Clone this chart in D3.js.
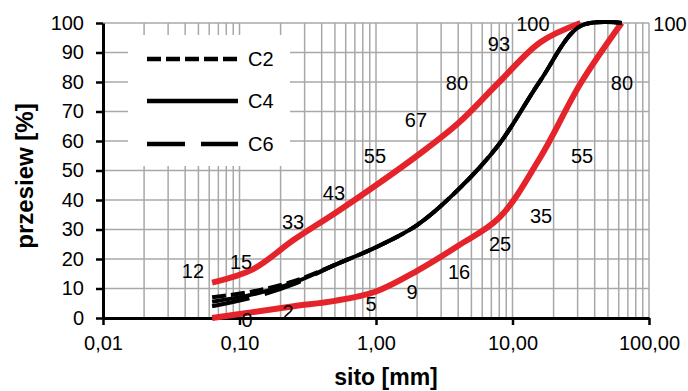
<!DOCTYPE html>
<html>
<head>
<meta charset="utf-8">
<script src="https://cdn.jsdelivr.net/npm/d3@7"></script>
<style>
  body { margin: 0; background: #fff; }
  text { font-family: "Liberation Sans", Arial, sans-serif; }
</style>
</head>
<body>
<svg id="chart" width="688" height="391"></svg>
<script>
// sieve sizes [mm]
const sieves = [0.063, 0.125, 0.25, 0.5, 1, 2, 4, 8, 16, 31.5, 63];

// passing [%] at each sieve
const upperLimit = [12, 16.5, 26.5, 35.5, 45, 55, 66, 80, 93.5, 100];   // stops at 31.5
const lowerLimit = [0, 2, 4, 5.8, 9, 16, 24.5, 34, 54.5, 79.5, 100];
const c2 = [7, 9, 12.5, 18, 24, 31.5, 43.5, 59, 80.5, 99, 100];
const c4 = [5.5, 8, 12, 18, 24, 31.5, 43.5, 59, 80.5, 99, 100];
const c6 = [4, 7, 11.5, 18, 24, 31.5, 43.5, 59, 80.5, 99, 100];

// data labels (text + where they sit, in mm / %)
const upperLabelText = ["12", "15", "33", "43", "55", "67", "80", "93", "100"];
const upperLabelX = [0.0456, 0.1026, 0.2466, 0.492, 0.983, 1.963, 3.92, 7.96, 14.1];
const upperLabelY = [15.9, 19.0, 32.5, 42.4, 54.9, 67.1, 79.7, 92.9, 99.7];
const lowerLabelText = ["0", "2", "5", "9", "16", "25", "35", "55", "80", "100"];
const lowerLabelX = [0.1135, 0.2266, 0.919, 1.835, 4.06, 8.1, 16.2, 32.3, 63.4, 142.6];
const lowerLabelY = [-0.7, 2, 4.7, 8.8, 15.6, 25.1, 34.6, 54.9, 79.7, 99.7];

const xTicks = [0.01, 0.1, 1, 10, 100];
const yTicks = [0, 10, 20, 30, 40, 50, 60, 70, 80, 90, 100];
const legendNames = ["C2", "C4", "C6"];

const RED = "#e4232b";
const GRID = "#a8a8a8";

const svg = d3.select("#chart");
const x = d3.scaleLog().domain([0.01, 100]).range([103, 649]);
const y = d3.scaleLinear().domain([0, 100]).range([318, 23]);

const pl = d3.formatLocale({ decimal: ",", thousands: " ", grouping: [3], currency: ["", " zł"] });
const fmt = pl.format(".2f");

// grid
svg.append("g")
  .selectAll("line")
  .data(x.ticks())
  .join("line")
  .attr("x1", d => x(d)).attr("x2", d => x(d))
  .attr("y1", y(0)).attr("y2", y(100))
  .attr("stroke", GRID).attr("stroke-width", 1.5);

svg.append("g")
  .selectAll("line")
  .data(yTicks.slice(1))
  .join("line")
  .attr("x1", x(0.01)).attr("x2", x(100))
  .attr("y1", d => y(d)).attr("y2", d => y(d))
  .attr("stroke", GRID).attr("stroke-width", 1.5);

// legend background hides the grid behind it
svg.append("rect")
  .attr("x", 128).attr("y", 35)
  .attr("width", 162).attr("height", 131)
  .attr("fill", "#fff");

// axes
const xAxis = svg.append("g")
  .attr("transform", `translate(0,${y(0)})`)
  .call(d3.axisBottom(x).tickValues(xTicks).tickFormat(fmt)
    .tickSize(7).tickSizeOuter(0).tickPadding(11));

const yAxis = svg.append("g")
  .attr("transform", `translate(${x(0.01)},0)`)
  .call(d3.axisLeft(y).tickValues(yTicks).tickFormat(d3.format("d"))
    .tickSize(7).tickSizeOuter(0).tickPadding(12));

[xAxis, yAxis].forEach(g => {
  g.select(".domain").attr("stroke", "#000").attr("stroke-width", 3);
  g.selectAll(".tick line").attr("stroke", "#000").attr("stroke-width", 2.5);
  g.selectAll(".tick text").attr("font-size", 20).attr("fill", "#000")
    .style("font-family", '"Liberation Sans", Arial, sans-serif');
});

// curves
const line = d3.line()
  .x(d => x(d[0]))
  .y(d => y(d[1]))
  .curve(d3.curveCatmullRom.alpha(0.5));

const pairs = vals => vals.map((v, i) => [sieves[i], v]);

svg.append("path").datum(pairs(upperLimit))
  .attr("d", line).attr("fill", "none")
  .attr("stroke", RED).attr("stroke-width", 6);
svg.append("path").datum(pairs(lowerLimit))
  .attr("d", line).attr("fill", "none")
  .attr("stroke", RED).attr("stroke-width", 6);

const series = [
  { vals: c2, dash: "14,5" },
  { vals: c4, dash: null },
  { vals: c6, dash: "38,16" }
];
series.forEach(s => {
  svg.append("path").datum(pairs(s.vals))
    .attr("d", line).attr("fill", "none")
    .attr("stroke", "#000").attr("stroke-width", 4)
    .attr("stroke-dasharray", s.dash);
});

// data labels
const labels = upperLabelText.map((t, i) => ({ t, x: upperLabelX[i], y: upperLabelY[i] }))
  .concat(lowerLabelText.map((t, i) => ({ t, x: lowerLabelX[i], y: lowerLabelY[i] })));

svg.append("g")
  .selectAll("text")
  .data(labels)
  .join("text")
  .attr("x", d => x(d.x))
  .attr("y", d => y(d.y))
  .attr("dy", "0.35em")
  .attr("text-anchor", "middle")
  .attr("font-size", 20)
  .text(d => d.t);

// legend
const legendY = [59, 101, 144];
legendNames.forEach((name, i) => {
  svg.append("line")
    .attr("x1", 147).attr("x2", 238)
    .attr("y1", legendY[i]).attr("y2", legendY[i])
    .attr("stroke", "#000").attr("stroke-width", 4.5)
    .attr("stroke-dasharray", series[i].dash);
  svg.append("text")
    .attr("x", 248).attr("y", legendY[i])
    .attr("dy", "0.35em")
    .attr("font-size", 20)
    .text(name);
});

// axis titles
svg.append("text")
  .attr("x", 386).attr("y", 385)
  .attr("text-anchor", "middle")
  .attr("font-size", 23).attr("font-weight", "bold")
  .text("sito [mm]");

svg.append("text")
  .attr("transform", "translate(33,176) rotate(-90)")
  .attr("text-anchor", "middle")
  .attr("font-size", 24).attr("font-weight", "bold")
  .text("przesiew [%]");
</script>
</body>
</html>
